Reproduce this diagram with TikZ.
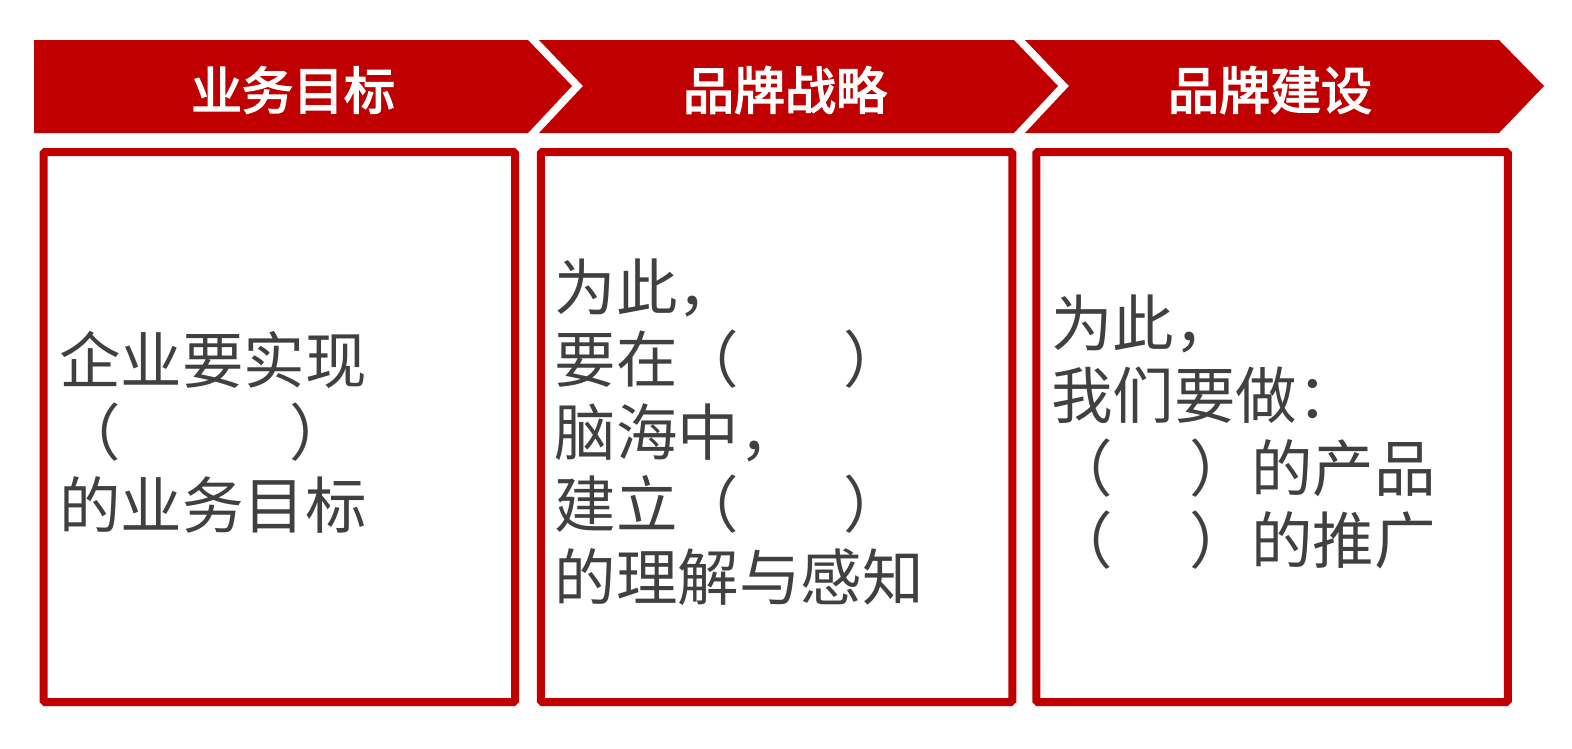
\documentclass[tikz,border=0pt]{standalone}
\usepackage{fontspec}
\newfontfamily\cjk{Noto Sans CJK SC}
\newfontfamily\cjkhead{Noto Sans CJK SC}[FakeBold=3]
\usetikzlibrary{positioning}

\definecolor{brandred}{HTML}{C00000}
\definecolor{inkgray}{HTML}{404040}

\begin{document}
\begin{tikzpicture}[x=1pt,y=-1pt]

    \tikzstyle{every node}=[inner sep=0pt]
    \tikzstyle{header}=[font=\cjkhead\fontsize{51}{60}\selectfont, text=white]
    \tikzstyle{panel}=[draw=brandred, line width=8pt, outer sep=0pt, rounded corners=1.5pt,
                       minimum width=471.5pt, minimum height=550pt]
    \tikzstyle{body}=[font=\cjk\fontsize{61.5}{72.5}\selectfont, text=inkgray, align=left]
    \def\top{40}
    \def\mid{86}
    \def\bot{133}

    \useasboundingbox (0,0) rectangle (1572,748);

    % chevron bar
    \fill[brandred] (34,\top) -- (528,\top) -- (572,\mid) -- (528,\bot) -- (34,\bot) -- cycle;
    \fill[brandred] (539,\top) -- (1014,\top) -- (1058,\mid) -- (1014,\bot) -- (539,\bot) -- (583,\mid) -- cycle;
    \fill[brandred] (1025,\top) -- (1499,\top) -- (1544,\mid) -- (1499,\bot) -- (1025,\bot) -- (1069,\mid) -- cycle;

    \node[header] (goalhead) at (293,90) {业务目标};
    \node[header] (strategyhead) at (785,90) {品牌战略};
    \node[header] (buildhead) at (1270,90) {品牌建设};

    % panels
    \node[panel] (goalbox) at (279.25,427) {};
    \node[panel] (strategybox) at (776.5,427) {};
    \node[panel] (buildbox) at (1272,427) {};

    \node[body, right=15.5pt of goalbox.west, yshift=-5pt] (goaltext)
        {企业要实现\\（\hspace{2.75em}）\\的业务目标};
    \node[body, right=14pt of strategybox.west, yshift=-5pt] (strategytext)
        {为此，\\要在（\hspace{1.7em}）\\脑海中，\\建立（\hspace{1.7em}）\\的理解与感知};
    \node[body, right=15pt of buildbox.west, yshift=-5pt] (buildtext)
        {为此，\\我们要做：\\（\hspace{1.25em}）的产品\\（\hspace{1.25em}）的推广};

\end{tikzpicture}
\end{document}
